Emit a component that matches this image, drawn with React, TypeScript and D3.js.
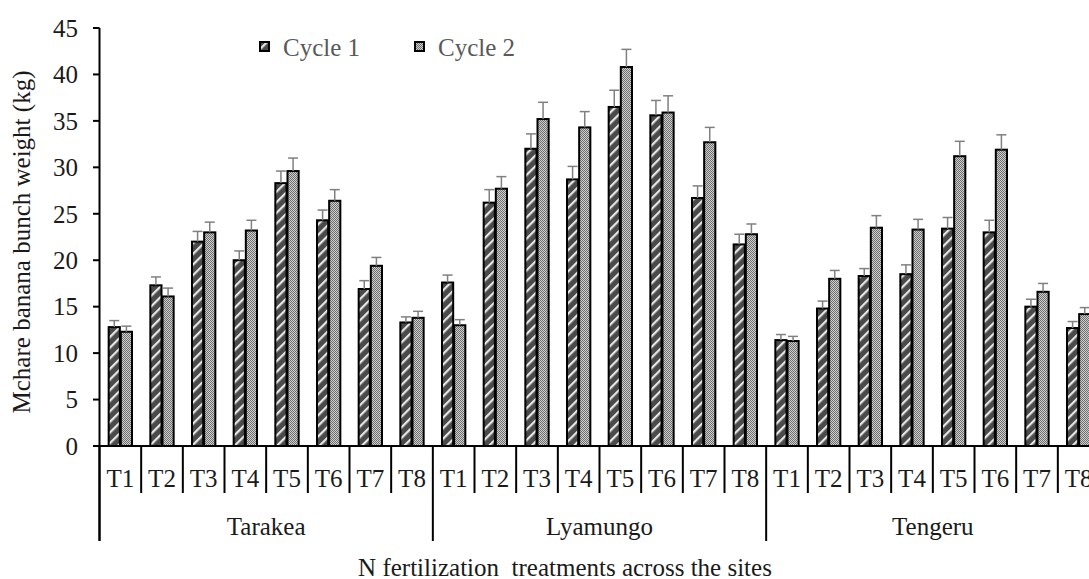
import React from "react";
import * as d3 from "d3";

const sites = ["Tarakea", "Lyamungo", "Tengeru"];
const treatments = ["T1", "T2", "T3", "T4", "T5", "T6", "T7", "T8"];
const seriesNames = ["Cycle 1", "Cycle 2"];
const yTicks = [0, 5, 10, 15, 20, 25, 30, 35, 40, 45];

const cycle1 = [12.8, 17.3, 22.0, 20.0, 28.3, 24.3, 16.9, 13.3, 17.6, 26.2, 32.0, 28.7, 36.5, 35.6, 26.7, 21.7, 11.4, 14.8, 18.3, 18.5, 23.4, 23.0, 15.0, 12.7];
const cycle2 = [12.3, 16.1, 23.0, 23.2, 29.6, 26.4, 19.4, 13.8, 13.0, 27.7, 35.2, 34.3, 40.8, 35.9, 32.7, 22.8, 11.3, 18.0, 23.5, 23.3, 31.2, 31.9, 16.6, 14.2];
const err1 = [0.7, 0.9, 1.1, 1.0, 1.3, 1.1, 0.9, 0.6, 0.8, 1.4, 1.6, 1.4, 1.8, 1.6, 1.3, 1.1, 0.6, 0.8, 0.8, 1.0, 1.2, 1.3, 0.8, 0.7];
const err2 = [0.6, 0.9, 1.1, 1.1, 1.4, 1.2, 0.9, 0.7, 0.6, 1.3, 1.8, 1.7, 1.9, 1.8, 1.6, 1.1, 0.5, 0.9, 1.3, 1.1, 1.6, 1.6, 0.9, 0.7];

const W = 1089;
const H = 579;
const FONT = "Liberation Serif";
const TXT = { fontFamily: FONT, fontSize: 25 };

export default function App() {
  const categories = sites.flatMap((s) => treatments.map((t) => `${s}-${t}`));
  const x = d3.scaleBand().domain(categories).range([99.5, 1099.5]).padding(0);
  const bw = x.bandwidth();
  const sub = d3
    .scaleBand()
    .domain(seriesNames)
    .range([bw * 0.22, bw * 0.78])
    .paddingInner(0.08)
    .paddingOuter(0);
  const y = d3.scaleLinear().domain([0, 45]).range([446, 28]);
  const siteScale = d3.scaleBand().domain(sites).range([99.5, 1099.5]);

  const values = [cycle1, cycle2];
  const errs = [err1, err2];
  const fills = ["url(#pCycle1)", "url(#pCycle2)"];

  return (
    <svg
      width={W}
      height={H}
      style={{ position: "absolute", left: 0, top: 0, background: "#fff", fontFamily: FONT }}
    >
      <defs>
        <pattern id="pCycle1" patternUnits="userSpaceOnUse" width={7.5} height={7.5} patternTransform="rotate(-45)">
          <rect width={7.5} height={7.5} fill="#4a4a4a" />
          <rect x={0} y={0} width={7.5} height={2.2} fill="#e8e8e8" />
        </pattern>
        <pattern id="pCycle2" patternUnits="userSpaceOnUse" width={2} height={2}>
          <rect width={2} height={2} fill="#cfcfcf" />
          <rect x={0} y={0} width={1} height={1} fill="#6e6e6e" />
          <rect x={1} y={1} width={1} height={1} fill="#6e6e6e" />
        </pattern>
      </defs>
      <rect width={W} height={H} fill="#fff" />

      {/* bars */}
      {categories.map((c, i) =>
        seriesNames.map((s, k) => {
          const bx = (x(c) as number) + (sub(s) as number);
          const sw = sub.bandwidth();
          const v = values[k][i];
          const e = errs[k][i];
          const cx = bx + sw / 2;
          return (
            <g key={`${c}-${s}`}>
              <rect x={bx} y={y(v)} width={sw} height={y(0) - y(v)} fill={fills[k]} stroke="#000" strokeWidth={2} />
              <line x1={cx} x2={cx} y1={y(v)} y2={y(v + e)} stroke="#808080" strokeWidth={1.5} />
              <line x1={cx - 5} x2={cx + 5} y1={y(v + e)} y2={y(v + e)} stroke="#808080" strokeWidth={1.5} />
            </g>
          );
        })
      )}

      {/* y axis */}
      <line x1={99.5} x2={99.5} y1={y(45)} y2={541} stroke="#000" strokeWidth={2} />
      {yTicks.map((t) => (
        <g key={t}>
          <line x1={93} x2={99.5} y1={y(t)} y2={y(t)} stroke="#000" strokeWidth={2} />
          <text x={78} y={y(t)} dy="0.35em" textAnchor="end" style={TXT} fill="#1a1a1a">
            {t}
          </text>
        </g>
      ))}
      <text
        transform={`translate(30,${(y(45) + y(0)) / 2 + 5}) rotate(-90)`}
        textAnchor="middle"
        style={TXT}
        fill="#1a1a1a"
      >
        Mchare banana bunch weight (kg)
      </text>

      {/* x axis */}
      <line x1={99.5} x2={W} y1={y(0)} y2={y(0)} stroke="#000" strokeWidth={2} />
      {categories.map((c, i) => (
        <g key={`lab-${c}`}>
          {i % 8 !== 0 && (
            <line x1={x(c) as number} x2={x(c) as number} y1={y(0)} y2={493} stroke="#000" strokeWidth={2} />
          )}
          <text x={(x(c) as number) + bw / 2} y={487} textAnchor="middle" style={TXT} fill="#1a1a1a">
            {treatments[i % 8]}
          </text>
        </g>
      ))}
      {sites.map((s) => (
        <g key={s}>
          <line x1={siteScale(s) as number} x2={siteScale(s) as number} y1={y(0)} y2={541} stroke="#000" strokeWidth={2} />
          <text
            x={(siteScale(s) as number) + siteScale.bandwidth() / 2}
            y={535}
            textAnchor="middle"
            style={TXT}
            fill="#1a1a1a"
          >
            {s}
          </text>
        </g>
      ))}
      <text x={565} y={576} textAnchor="middle" style={{ ...TXT, whiteSpace: "pre" }} fill="#1a1a1a">
        {"N fertilization  treatments across the sites"}
      </text>

      {/* legend */}
      {seriesNames.map((s, k) => {
        const lx = [260, 415][k];
        return (
          <g key={`leg-${s}`}>
            <rect x={lx} y={42} width={9} height={9} fill={fills[k]} stroke="#000" strokeWidth={2} />
            <text x={lx + 23} y={56} style={TXT} fill="#595959">
              {s}
            </text>
          </g>
        );
      })}
    </svg>
  );
}
